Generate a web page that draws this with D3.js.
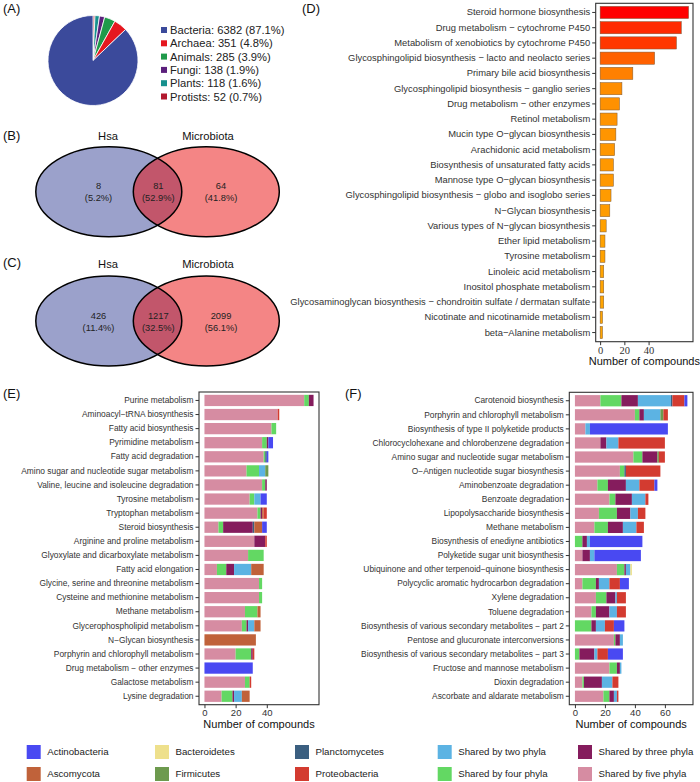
<!DOCTYPE html>
<html>
<head>
<meta charset="utf-8">
<script src="https://cdn.jsdelivr.net/npm/d3@7"></script>
<style>
  body { margin: 0; background: #fff; }
  svg { display: block; }
  text { font-family: "Liberation Sans", Arial, sans-serif; }
</style>
</head>
<body>
<svg width="700" height="782"></svg>
<script>
// ---- data ----
const pieGroups = ["Bacteria", "Archaea", "Animals", "Fungi", "Plants", "Protists"];
const pieCounts = [6382, 351, 285, 138, 118, 52];
const piePercents = ["87.1%", "4.8%", "3.9%", "1.9%", "1.6%", "0.7%"];

const vennSets = ["Hsa", "Microbiota"];
const vennBCounts = [8, 81, 64];
const vennBPercents = ["5.2%", "52.9%", "41.8%"];
const vennCCounts = [426, 1217, 2099];
const vennCPercents = ["11.4%", "32.5%", "56.1%"];

const dPathways = [
  "Steroid hormone biosynthesis",
  "Drug metabolism \u2212 cytochrome P450",
  "Metabolism of xenobiotics by cytochrome P450",
  "Glycosphingolipid biosynthesis \u2212 lacto and neolacto series",
  "Primary bile acid biosynthesis",
  "Glycosphingolipid biosynthesis \u2212 ganglio series",
  "Drug metabolism \u2212 other enzymes",
  "Retinol metabolism",
  "Mucin type O\u2212glycan biosynthesis",
  "Arachidonic acid metabolism",
  "Biosynthesis of unsaturated fatty acids",
  "Mannose type O\u2212glycan biosynthesis",
  "Glycosphingolipid biosynthesis \u2212 globo and isoglobo series",
  "N\u2212Glycan biosynthesis",
  "Various types of N\u2212glycan biosynthesis",
  "Ether lipid metabolism",
  "Tyrosine metabolism",
  "Linoleic acid metabolism",
  "Inositol phosphate metabolism",
  "Glycosaminoglycan biosynthesis \u2212 chondroitin sulfate / dermatan sulfate",
  "Nicotinate and nicotinamide metabolism",
  "beta\u2212Alanine metabolism"
];
const dCounts = [73, 67, 63, 45, 27, 18, 16, 14, 13, 12, 11, 11, 9, 8, 5, 4, 4, 3, 3, 3, 2, 2];
const dTicks = [0, 20, 40];

// stacking order, left to right
const phyla = [
  "Shared by five phyla", "Shared by four phyla", "Shared by three phyla", "Shared by two phyla",
  "Planctomycetes", "Bacteroidetes", "Firmicutes", "Ascomycota", "Proteobacteria", "Actinobacteria"
];

const ePathways = [
  "Purine metabolism",
  "Aminoacyl\u2212tRNA biosynthesis",
  "Fatty acid biosynthesis",
  "Pyrimidine metabolism",
  "Fatty acid degradation",
  "Amino sugar and nucleotide sugar metabolism",
  "Valine, leucine and isoleucine degradation",
  "Tyrosine metabolism",
  "Tryptophan metabolism",
  "Steroid biosynthesis",
  "Arginine and proline metabolism",
  "Glyoxylate and dicarboxylate metabolism",
  "Fatty acid elongation",
  "Glycine, serine and threonine metabolism",
  "Cysteine and methionine metabolism",
  "Methane metabolism",
  "Glycerophospholipid metabolism",
  "N\u2212Glycan biosynthesis",
  "Porphyrin and chlorophyll metabolism",
  "Drug metabolism \u2212 other enzymes",
  "Galactose metabolism",
  "Lysine degradation"
];
// columns follow `phyla`
const eCounts = [
  [64, 3, 3, 0, 0, 0, 0, 0, 0, 0],
  [47, 0, 0, 0, 0, 0, 0, 0, 1, 0],
  [43, 3, 0, 0, 0, 0, 0, 0, 0, 0],
  [37, 3, 1, 0, 0, 0, 0, 0, 0, 3],
  [38, 1, 0, 0, 1, 0, 0, 0, 0, 1],
  [27, 8, 0, 4, 0, 0, 2, 0, 0, 0],
  [37, 2, 1, 0, 0, 0, 0, 0, 0, 0],
  [29, 3, 0, 4, 0, 0, 0, 0, 0, 4],
  [34, 2, 1, 0, 0, 0, 0, 1, 2, 0],
  [9, 3, 19, 0, 1, 0, 0, 5, 0, 3],
  [32, 0, 7, 0, 0, 0, 0, 0, 1, 0],
  [28, 10, 0, 0, 0, 0, 0, 0, 0, 0],
  [8, 6, 5, 11, 0, 0, 0, 8, 0, 0],
  [35, 2, 0, 0, 0, 0, 0, 0, 0, 0],
  [35, 2, 0, 0, 0, 0, 0, 0, 0, 0],
  [26, 8, 0, 0, 0, 0, 0, 2, 0, 0],
  [24, 3, 1, 4, 0, 0, 0, 4, 0, 0],
  [0, 0, 0, 0, 0, 0, 0, 33, 0, 0],
  [20, 10, 1, 0, 0, 0, 0, 0, 1, 0],
  [0, 0, 0, 0, 0, 0, 0, 0, 0, 31],
  [26, 3, 0, 0, 0, 0, 0, 0, 1, 0],
  [11, 7, 1, 5, 0, 0, 0, 5, 0, 0]
];
const eTicks = [0, 20, 40];

const fPathways = [
  "Carotenoid biosynthesis",
  "Porphyrin and chlorophyll metabolism",
  "Biosynthesis of type II polyketide products",
  "Chlorocyclohexane and chlorobenzene degradation",
  "Amino sugar and nucleotide sugar metabolism",
  "O\u2212Antigen nucleotide sugar biosynthesis",
  "Aminobenzoate degradation",
  "Benzoate degradation",
  "Lipopolysaccharide biosynthesis",
  "Methane metabolism",
  "Biosynthesis of enediyne antibiotics",
  "Polyketide sugar unit biosynthesis",
  "Ubiquinone and other terpenoid\u2212quinone biosynthesis",
  "Polycyclic aromatic hydrocarbon degradation",
  "Xylene degradation",
  "Toluene degradation",
  "Biosynthesis of various secondary metabolites \u2212 part 2",
  "Pentose and glucuronate interconversions",
  "Biosynthesis of various secondary metabolites \u2212 part 3",
  "Fructose and mannose metabolism",
  "Dioxin degradation",
  "Ascorbate and aldarate metabolism"
];
const fCounts = [
  [17, 14, 11, 22, 1, 0, 0, 0, 8, 2],
  [40, 3, 3, 11, 0, 0, 2, 0, 3, 0],
  [7, 0, 0, 3, 0, 0, 0, 0, 0, 52],
  [17, 0, 4, 8, 0, 0, 0, 0, 31, 0],
  [39, 6, 10, 0, 0, 0, 1, 0, 4, 0],
  [30, 3, 0, 0, 1, 0, 0, 0, 23, 0],
  [15, 7, 12, 9, 0, 0, 0, 0, 10, 2],
  [23, 4, 11, 9, 0, 0, 0, 0, 2, 0],
  [16, 12, 9, 5, 0, 0, 0, 0, 5, 0],
  [13, 9, 10, 9, 0, 0, 0, 0, 5, 0],
  [0, 5, 3, 2, 0, 0, 0, 0, 0, 35],
  [5, 0, 5, 3, 0, 0, 0, 0, 0, 31],
  [28, 5, 1, 3, 0, 1, 0, 0, 0, 0],
  [5, 9, 2, 7, 0, 0, 0, 0, 7, 6],
  [14, 7, 6, 1, 0, 0, 0, 0, 6, 0],
  [11, 3, 9, 5, 0, 0, 0, 0, 6, 0],
  [0, 11, 3, 6, 0, 0, 0, 0, 6, 7],
  [26, 1, 3, 2, 0, 0, 0, 0, 0, 0],
  [0, 3, 10, 2, 0, 0, 0, 0, 7, 10],
  [23, 5, 2, 1, 0, 0, 0, 0, 0, 0],
  [5, 1, 12, 7, 0, 0, 0, 0, 4, 0],
  [19, 4, 3, 2, 0, 0, 0, 0, 1, 0]
];
const fTicks = [0, 20, 40, 60];

// legend, filled column by column in two rows
const legendOrder = [
  "Actinobacteria", "Ascomycota", "Bacteroidetes", "Firmicutes", "Planctomycetes",
  "Proteobacteria", "Shared by two phyla", "Shared by four phyla", "Shared by three phyla", "Shared by five phyla"
];

// ---- styles ----
const pieColors = ["#3b4a9b", "#e5171f", "#1f9a4a", "#5b1f7c", "#17918e", "#b2182e"];
const phylaColors = {
  "Actinobacteria": "#4949f2",
  "Ascomycota": "#c0623a",
  "Bacteroidetes": "#eee08c",
  "Firmicutes": "#6d9a4e",
  "Planctomycetes": "#3b5f80",
  "Proteobacteria": "#d33b30",
  "Shared by two phyla": "#5cb3e3",
  "Shared by four phyla": "#63d863",
  "Shared by three phyla": "#851c5d",
  "Shared by five phyla": "#d68ca2"
};
const axisText = "#333";

const svg = d3.select("svg");

// panel letters
const letters = [["(A)", 3, 8], ["(B)", 3, 135], ["(C)", 3, 262], ["(D)", 302, 8], ["(E)", 3, 393], ["(F)", 345, 393]];
svg.selectAll("text.letter").data(letters).join("text")
  .attr("class", "letter")
  .attr("x", d => d[1]).attr("y", d => d[2]).attr("dy", "0.35em")
  .style("font-size", "13px").attr("fill", "#111")
  .text(d => d[0]);

// ---- (A) pie ----
const pieG = svg.append("g").attr("transform", "translate(93,60.5)");
const pieIdx = d3.range(pieGroups.length).reverse();
const arcs = d3.pie().sort(null).value(i => pieCounts[i])(pieIdx);
pieG.selectAll("path").data(arcs).join("path")
  .attr("d", d3.arc().innerRadius(0).outerRadius(45))
  .attr("fill", d => pieColors[d.data])
  .attr("stroke", "#fff").attr("stroke-width", 0.8);

const pieLeg = svg.append("g").attr("transform", "translate(161,30)");
const pieRows = pieLeg.selectAll("g").data(pieGroups).join("g")
  .attr("transform", (d, i) => `translate(0,${i * 13.3})`);
pieRows.append("rect").attr("x", 0).attr("y", -3).attr("width", 6).attr("height", 6)
  .attr("fill", (d, i) => pieColors[i]);
pieRows.append("text").attr("x", 9).attr("dy", "0.36em")
  .style("font-size", "11.2px").attr("fill", "#222")
  .text((d, i) => `${d}: ${pieCounts[i]} (${piePercents[i]})`);

// ---- (B), (C) venn ----
function venn(cy, titleY, counts, pcts) {
  const g = svg.append("g");
  const cxs = [108.8, 206.3];
  const fills = ["#374397", "#ea0c0c"];
  g.selectAll("ellipse").data(cxs).join("ellipse")
    .attr("cx", d => d).attr("cy", cy).attr("rx", 73).attr("ry", 45)
    .attr("fill", (d, i) => fills[i]).attr("fill-opacity", 0.5);
  g.selectAll("ellipse.edge").data(cxs).join("ellipse")
    .attr("class", "edge")
    .attr("cx", d => d).attr("cy", cy).attr("rx", 73).attr("ry", 45)
    .attr("fill", "none").attr("stroke", "#000").attr("stroke-width", 1.5);
  g.selectAll("text.title").data(vennSets).join("text")
    .attr("class", "title")
    .attr("x", (d, i) => [108, 208][i]).attr("y", titleY).attr("dy", "0.35em")
    .attr("text-anchor", "middle").style("font-size", "11.2px").attr("fill", "#111")
    .text(d => d);
  const tx = [98.5, 158.3, 221];
  g.selectAll("text.num").data(counts).join("text")
    .attr("class", "num")
    .attr("x", (d, i) => tx[i]).attr("y", cy - 5.5).attr("dy", "0.35em")
    .attr("text-anchor", "middle").style("font-size", "9.3px").attr("fill", "#222")
    .text(d => d);
  g.selectAll("text.pct").data(pcts).join("text")
    .attr("class", "pct")
    .attr("x", (d, i) => tx[i]).attr("y", cy + 6.5).attr("dy", "0.35em")
    .attr("text-anchor", "middle").style("font-size", "9.3px").attr("fill", "#222")
    .text(d => `(${d})`);
}
venn(191.7, 136, vennBCounts, vennBPercents);
venn(321, 264, vennCCounts, vennCPercents);

// ---- shared axis helpers ----
function yAxis(g, y, left, size) {
  const ax = g.append("g").attr("transform", `translate(${left},0)`)
    .call(d3.axisLeft(y).tickSize(3.5).tickPadding(2));
  ax.select(".domain").remove();
  ax.selectAll("line").attr("stroke", axisText);
  ax.selectAll("text").style("font-size", size + "px").attr("fill", axisText)
    .style("font-family", '"Liberation Sans", Arial, sans-serif');
}
function xAxis(g, x, ticks, bottom, serif) {
  const ax = g.append("g").attr("transform", `translate(0,${bottom})`)
    .call(d3.axisBottom(x).tickValues(ticks).tickSize(3.5).tickPadding(1));
  ax.select(".domain").remove();
  ax.selectAll("line").attr("stroke", axisText);
  ax.selectAll("text").style("font-size", serif ? "10.5px" : "9.5px").attr("fill", axisText)
    .style("font-family", serif ? '"Liberation Serif", "Times New Roman", serif' : '"Liberation Sans", Arial, sans-serif');
}
function frame(g, box) {
  g.append("rect").attr("x", box.left).attr("y", box.top)
    .attr("width", box.right - box.left).attr("height", box.bottom - box.top)
    .attr("fill", "none").attr("stroke", "#333").attr("stroke-width", 1.1);
  g.append("text").attr("x", (box.left + box.right) / 2).attr("y", box.bottom + 23)
    .attr("text-anchor", "middle").style("font-size", "11px").attr("fill", "#111")
    .text("Number of compounds");
}

// ---- (D) ----
{
  const box = { left: 595.7, right: 693, top: 3.3, bottom: 341.7 };
  const g = svg.append("g");
  const max = d3.max(dCounts);
  const x = d3.scaleLinear().domain([-0.05 * max, 1.05 * max]).range([box.left, box.right]);
  const y = d3.scaleBand().domain(dPathways).range([box.top, box.bottom]).paddingInner(0.2).paddingOuter(0.2);
  const col = d3.scaleLinear().domain([d3.min(dCounts), max]).range(["#ffa500", "#ff0000"]).interpolate(d3.interpolateLab);
  g.selectAll("rect.bar").data(dPathways).join("rect")
    .attr("class", "bar")
    .attr("x", x(0)).attr("y", d => y(d))
    .attr("width", (d, i) => x(dCounts[i]) - x(0)).attr("height", y.bandwidth())
    .attr("fill", (d, i) => col(dCounts[i]))
    .attr("stroke", "#7a5a3a").attr("stroke-width", 0.5);
  frame(g, box);
  yAxis(g, y, box.left, 9.4);
  xAxis(g, x, dTicks, box.bottom, true);
}

// ---- (E), (F) stacked ----
function stacked(pathways, counts, ticks, box) {
  const g = svg.append("g");
  const rows = pathways.map((p, i) => {
    const o = { pathway: p };
    phyla.forEach((k, j) => { o[k] = counts[i][j]; });
    return o;
  });
  const series = d3.stack().keys(phyla)(rows);
  const max = d3.max(counts, r => d3.sum(r));
  const x = d3.scaleLinear().domain([-0.05 * max, 1.05 * max]).range([box.left, box.right]);
  const y = d3.scaleBand().domain(pathways).range([box.top, box.bottom]).paddingInner(0.2).paddingOuter(0.2);
  g.selectAll("g.layer").data(series).join("g")
    .attr("class", "layer").attr("fill", d => phylaColors[d.key])
    .selectAll("rect").data(d => d).join("rect")
    .attr("x", d => x(d[0])).attr("width", d => x(d[1]) - x(d[0]))
    .attr("y", d => y(d.data.pathway)).attr("height", y.bandwidth());
  frame(g, box);
  yAxis(g, y, box.left, 8.4);
  xAxis(g, x, ticks, box.bottom, false);
}
stacked(ePathways, eCounts, eTicks, { left: 199, right: 319, top: 392, bottom: 704.7 });
stacked(fPathways, fCounts, fTicks, { left: 569.3, right: 693, top: 392.3, bottom: 704.7 });

// ---- bottom legend ----
const legX = [26.7, 155, 295, 437.7, 578];
const legY = [752, 774];
const leg = svg.append("g").selectAll("g").data(legendOrder).join("g")
  .attr("transform", (d, i) => `translate(${legX[Math.floor(i / 2)]},${legY[i % 2]})`);
leg.append("rect").attr("x", 0).attr("y", -7).attr("width", 14).attr("height", 14)
  .attr("fill", d => phylaColors[d]);
leg.append("text").attr("x", 20.5).attr("dy", "0.35em")
  .style("font-size", "9.7px").attr("fill", "#222")
  .text(d => d);
</script>
</body>
</html>
